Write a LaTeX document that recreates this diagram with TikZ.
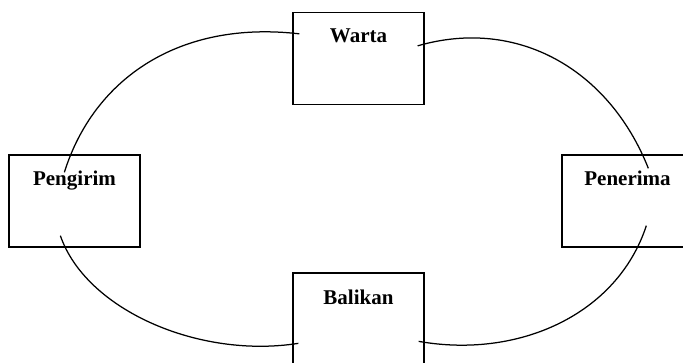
\documentclass[tikz,border=0pt]{standalone}
\usepackage{fontspec}
\setmainfont{Liberation Serif}
\usetikzlibrary{calc}
\begin{document}
\begin{tikzpicture}[x=1pt,y=-1pt,
  box/.style={draw=black,line width=1.3pt,rectangle,inner sep=0pt,minimum width=131pt,minimum height=92pt},
  lbl/.style={anchor=base,inner sep=0pt,font=\fontsize{21}{25}\selectfont\bfseries},
  arcline/.style={draw=black,line width=1.25pt}]
\useasboundingbox (0,0) rectangle (683,363);
\clip (0,0) rectangle (683,363);
\node[box] (warta) at (358.5,58.5) {};
\node[box] (pengirim) at (74.5,201) {};
\node[box] (penerima) at (627.5,201) {};
\node[box] (balikan) at (358.5,319) {};
\node[lbl] (twarta) at ($(warta.north)+(0,31)$) {Warta};
\node[lbl] (tpengirim) at ($(pengirim.north)+(0,31)$) {Pengirim};
\node[lbl] (tpenerima) at ($(penerima.north)+(0,31)$) {Penerima};
\node[lbl] (tbalikan) at ($(balikan.north)+(0,32)$) {Balikan};
\draw[arcline] ($(pengirim.north west)+(56,18)$) .. controls (94,78) and (180,20) .. ($(warta.north west)+(7,22)$);
\draw[arcline] ($(warta.north east)+(-7,34)$) .. controls (517,17) and (609,69) .. ($(penerima.north west)+(87,14)$);
\draw[arcline] ($(penerima.south west)+(85,-22)$) .. controls (617,315) and (518,359) .. ($(balikan.north east)+(-6,69)$);
\draw[arcline] ($(pengirim.south west)+(52,-12)$) .. controls (86,310) and (199,359) .. ($(balikan.north west)+(6,71)$);
\end{tikzpicture}
\end{document}
